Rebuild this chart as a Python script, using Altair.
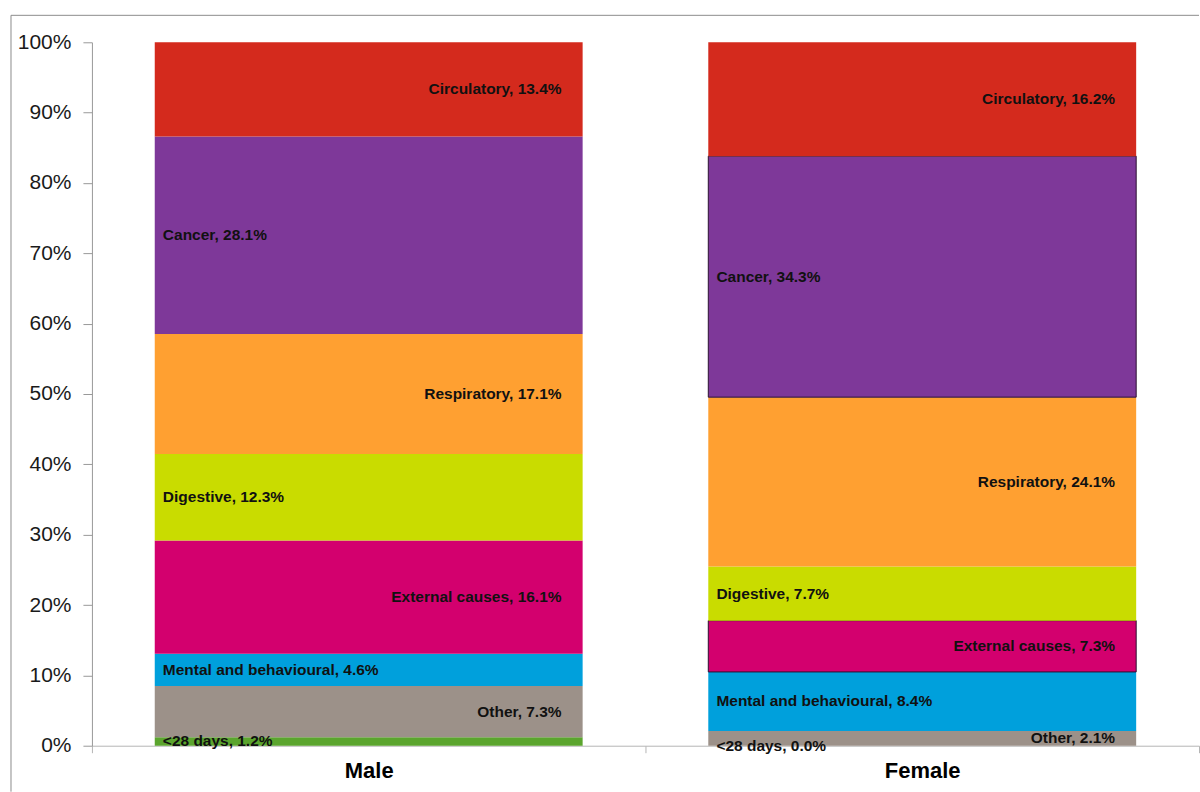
import altair as alt
import pandas as pd

sexes = ["Male", "Female"]
causes = ["<28 days", "Other", "Mental and behavioural", "External causes",
          "Digestive", "Respiratory", "Cancer", "Circulatory"]
male_pct = [1.2, 7.3, 4.6, 16.1, 12.3, 17.1, 28.1, 13.4]
female_pct = [0.0, 2.1, 8.4, 7.3, 7.7, 24.1, 34.3, 16.2]
colors = ["#5BA52E", "#9C9189", "#00A0DC", "#D3006E",
          "#C9DC00", "#FFA031", "#7E3899", "#D42A1D"]
y_ticks = [0, 0.1, 0.2, 0.3, 0.4, 0.5, 0.6, 0.7, 0.8, 0.9, 1.0]

left_causes = ["<28 days", "Mental and behavioural", "Digestive", "Cancer"]

rows = []
for sex, vals in zip(sexes, [male_pct, female_pct]):
    for i, (c, v) in enumerate(zip(causes, vals)):
        rows.append({"sex": sex, "cause": c, "value": v, "rank": i})
df = pd.DataFrame(rows)

FONT = "Liberation Sans"
W, H = 1108, 704

base = alt.Chart(df).transform_stack(
    stack="value",
    groupby=["sex"],
    sort=[alt.SortField("rank", order="ascending")],
    as_=["y0", "y1"],
    offset="normalize",
).transform_calculate(
    ymid="(datum.y0 + datum.y1) / 2",
    label="datum.cause + ', ' + format(datum.value, '.1f') + '%'",
    side="indexof(" + str(left_causes).replace("'", '"') + ", datum.cause) >= 0 ? 'L' : 'R'",
)

x_enc = alt.X(
    "sex:N",
    sort=sexes,
    scale=alt.Scale(paddingInner=0, paddingOuter=0),
    axis=alt.Axis(
        title=None, labelAngle=0, labelFontSize=22, labelFontWeight="bold",
        labelFont=FONT, labelColor="#000", domainColor="#b5b5b5",
        tickColor="#b5b5b5", tickSize=7, tickBand="extent", labelPadding=8,
    ),
)

bars = base.mark_bar(width=alt.RelativeBandSize(0.773)).encode(
    x=x_enc,
    y=alt.Y(
        "y0:Q",
        scale=alt.Scale(domain=[0, 1], nice=False),
        axis=alt.Axis(
            format=".0%", values=y_ticks, title=None, grid=False,
            labelFontSize=21, labelFont=FONT, labelColor="#1a1a1a",
            domainColor="#999", tickColor="#999", tickSize=9, labelPadding=12,
        ),
    ),
    y2="y1",
    color=alt.Color("cause:N", scale=alt.Scale(domain=causes, range=colors), legend=None),
    stroke=alt.condition(
        "datum.sex == 'Female' && (datum.cause == 'Cancer' || datum.cause == 'External causes')",
        alt.value("#2a1030"),
        alt.value("transparent"),
    ),
    strokeWidth=alt.value(1),
)

text_left = base.transform_filter("datum.side == 'L'").mark_text(
    align="left", baseline="middle", dx=-206, font=FONT, fontSize=15.5,
    fontWeight="bold", color="#111",
).encode(x=alt.X("sex:N", sort=sexes), y=alt.Y("ymid:Q"), text="label:N")

text_right = base.transform_filter("datum.side == 'R'").mark_text(
    align="right", baseline="middle", dx=193, font=FONT, fontSize=15.5,
    fontWeight="bold", color="#111",
).encode(x=alt.X("sex:N", sort=sexes), y=alt.Y("ymid:Q"), text="label:N")

frame_df = pd.DataFrame({"b": [0]})
border_top = alt.Chart(frame_df).mark_rule(color="#8c8c8c", strokeWidth=1).encode(
    x=alt.value(-81), x2=alt.value(W), y=alt.value(-27),
)
border_left = alt.Chart(frame_df).mark_rule(color="#8c8c8c", strokeWidth=1).encode(
    x=alt.value(-81), y=alt.value(-27), y2=alt.value(H + 46),
)

chart = alt.layer(border_top, border_left, bars, text_left, text_right).properties(
    width=W, height=H,
    padding={"left": 10, "top": 14, "right": 0, "bottom": 0},
    background="white",
).configure_view(stroke=None)

chart.save("out.html", embed_options={"renderer": "svg", "actions": False})
